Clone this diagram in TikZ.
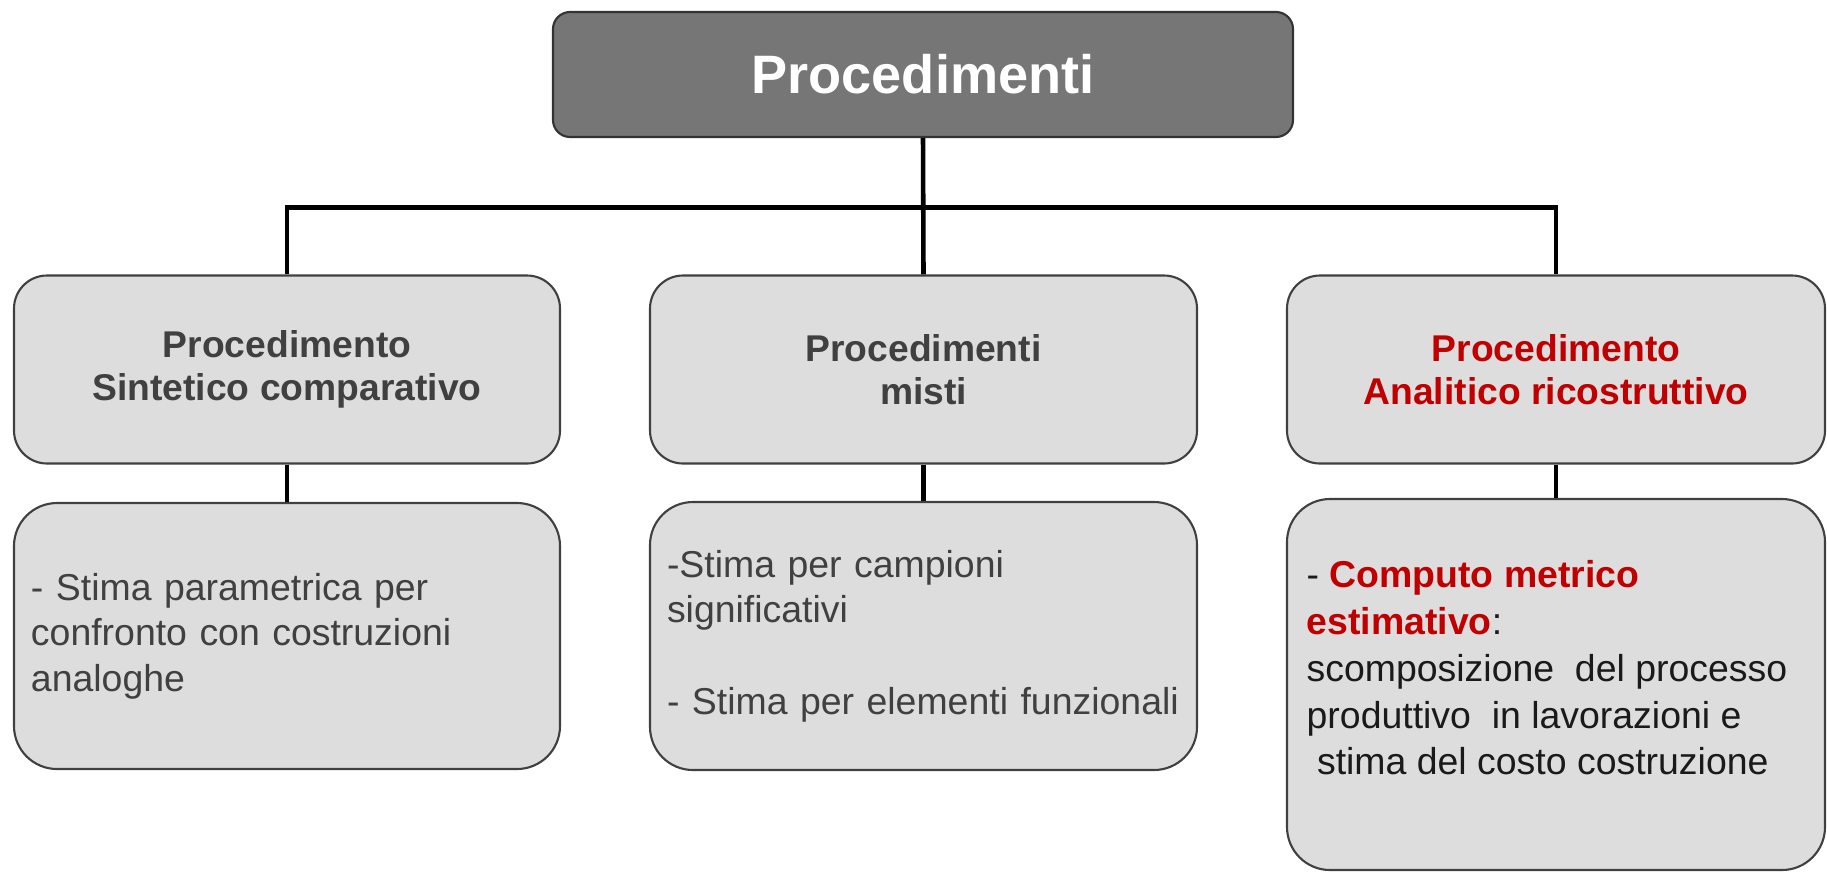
\documentclass[tikz,border=0pt]{standalone}
\usepackage{fontspec}
\setmainfont{Liberation Sans}
\hyphenpenalty=10000
\exhyphenpenalty=10000
\definecolor{topgray}{RGB}{118,118,118}
\definecolor{boxgray}{RGB}{221,221,221}
\definecolor{boxline}{RGB}{64,64,64}
\definecolor{txtgray}{RGB}{64,64,64}
\definecolor{redtxt}{RGB}{192,0,0}
\definecolor{darktxt}{RGB}{26,26,26}
\begin{document}
\begin{tikzpicture}[
  topbox/.style={draw=black!80, fill=topgray, line width=0.6pt, rounded corners=0.17cm, minimum width=7.40cm, minimum height=1.25cm, text=white, font=\fontsize{15.4}{18}\selectfont\bfseries},
  headbox/.style={draw=boxline, fill=boxgray, line width=0.6pt, rounded corners=0.33cm, minimum height=1.88cm, align=center, text=txtgray, font=\fontsize{10.6}{12.2}\selectfont\bfseries},
  listbox/.style={draw=boxline, fill=boxgray, line width=0.6pt, rounded corners=0.43cm, align=left, inner xsep=0.17cm, text=txtgray, font=\fontsize{10.65}{13}\selectfont},
  link/.style={line width=1.3pt}
]
\useasboundingbox (0,0) rectangle (18.27,-8.74);

% Top
\node[topbox] (proc) at (9.23,-0.745) {Procedimenti};

% Second level
\node[headbox, minimum width=5.46cm] (sint) at (2.87,-3.695) {Procedimento\\Sintetico comparativo};
\node[headbox, minimum width=5.47cm] (misti) at (9.235,-3.695) {Procedimenti\\misti};
\node[headbox, minimum width=5.38cm, text=redtxt] (anal) at (15.56,-3.695) {Procedimento\\Analitico ricostruttivo};

% Third level
\node[listbox, text width=5.12cm, minimum height=2.66cm] (sintlist) at (2.87,-6.36) {- Stima parametrica per\\confronto con costruzioni\\analoghe};
\node[listbox, text width=5.13cm, minimum height=2.68cm] (mistilist) at (9.235,-6.36) {-Stima per campioni\\significativi\\[13pt]- Stima per elementi funzionali};
\node[listbox, minimum width=5.38cm, minimum height=3.71cm] (anallist) at (15.56,-6.845) {};
\node[anchor=north west, align=left, inner sep=0pt, xshift=0.2cm, yshift=-0.62cm, text=darktxt, font=\fontsize{10.65}{13.3}\selectfont] (analtxt) at (anallist.north west) {- \textcolor{redtxt}{\bfseries Computo metrico}\\\textcolor{redtxt}{\bfseries estimativo}:\\scomposizione~ del processo\\produttivo~ in lavorazioni e\\\ stima del costo costruzione};

% Connectors
\coordinate (bus) at (0,-2.075);
\draw[link] (proc.south) -- (misti.north);
\draw[link] (sint.north) |- (bus -| anal.north) -- (anal.north);
\draw[link] (sint.south) -- (sintlist.north);
\draw[link] (misti.south) -- (mistilist.north);
\draw[link] (anal.south) -- (anallist.north);
\end{tikzpicture}
\end{document}
